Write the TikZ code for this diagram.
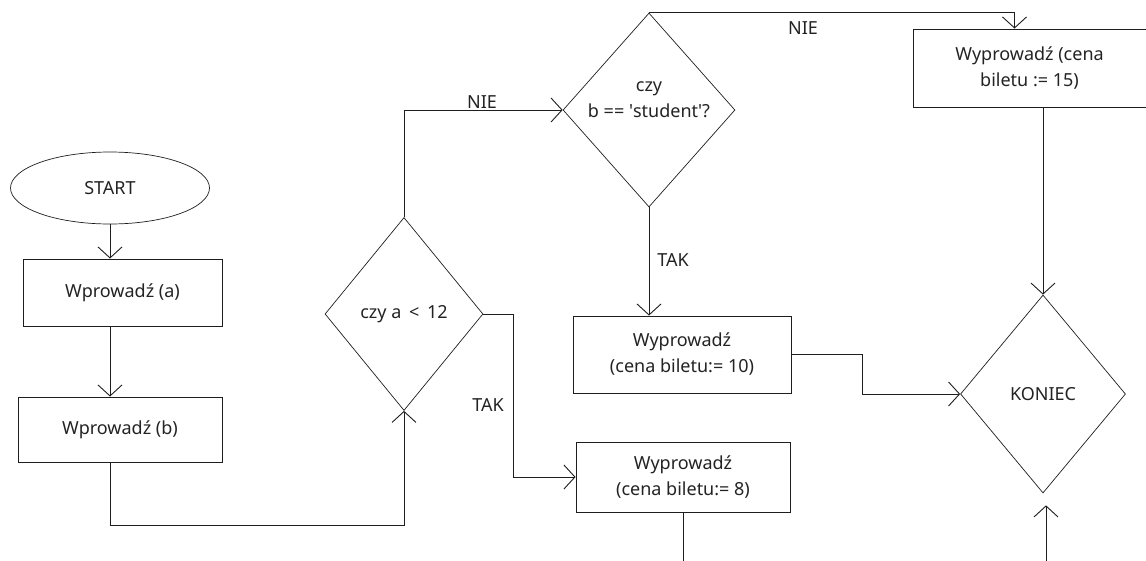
\documentclass[tikz,border=0pt]{standalone}
\usepackage{fontspec}
\setmainfont{Noto Sans}
\usetikzlibrary{shapes.geometric,arrows.meta}
\definecolor{flowline}{RGB}{30,30,30}
\definecolor{flowtext}{RGB}{35,35,35}

\begin{document}
\begin{tikzpicture}[x=1pt, y=-1pt,
    every node/.style={font=\fontsize{18}{26}\selectfont, text=flowtext, align=center, inner sep=0pt},
    box/.style={draw=flowline, line width=0.9pt, rectangle},
    decision/.style={draw=flowline, line width=0.7pt, diamond},
    terminal/.style={draw=flowline, line width=0.7pt, ellipse},
    flow/.style={draw=flowline, line width=0.9pt},
    >={Straight Barb[length=11pt,width=24pt]}]
    \useasboundingbox (0,0) rectangle (1146,560);

    % Start and input
    \node[terminal, minimum width=199pt, minimum height=72pt] (start) at (110,188) {START};
    \node[box, minimum width=199pt, minimum height=67pt] (ba) at (122.5,292.5) {Wprowadź (a)};
    \node[box, minimum width=204pt, minimum height=65pt] (bb) at (120,429.5) {Wprowadź (b)};

    % Decisions
    \node[decision, minimum width=158pt, minimum height=193pt] (d1) at (404,314) {czy a \,<\, 12};
    \node[decision, minimum width=172pt, minimum height=194pt,
        label={[yshift=10pt]center:{czy\\b == \textquotesingle student\textquotesingle?}}] (d2) at (649,110) {};

    % Outputs
    \node[box, minimum width=233pt, minimum height=78pt] (b15) at (1029.5,68) {Wyprowadź (cena\\biletu := 15)};
    \node[box, minimum width=218pt, minimum height=77pt] (b10) at (682,354.5) {Wyprowadź\\(cena biletu:= 10)};
    \node[box, minimum width=214pt, minimum height=70pt] (b8) at (683,477) {Wyprowadź\\(cena biletu:= 8)};

    % End
    \node[decision, minimum width=165pt, minimum height=198pt] (koniec) at (1043,394) {KONIEC};

    % Branch labels
    \node (nie1) at (482,102) {NIE};
    \node (tak1) at (488,405) {TAK};
    \node (tak2) at (673,260) {TAK};
    \node (nie2) at (803,28) {NIE};

    % Connectors
    \draw[flow,->] (start.south) -- (start.south |- ba.north);
    \draw[flow,->] (start.south |- ba.south) -- (start.south |- bb.north);
    \draw[flow,->] (start.south |- bb.south) -- ++(0,63) -| (d1.south);
    \draw[flow,->] (d1.north) |- (d2.west);
    \draw[flow,->] (d1.east) -- ++(30,0) |- (b8.west);
    \draw[flow,->] (d2.south) -- (d2.south |- b10.north);
    \draw[flow,->] (d2.north) -| ([xshift=-15pt]b15.north);
    \draw[flow,->] (koniec.north |- b15.south) -- (koniec.north);
    \draw[flow,->] (b10.east) -- ++(71,0) |- (koniec.west);
    \draw[flow] (b8.south) -- ++(0,60);
    \coordinate (below) at (1046,575);
    \draw[flow,->,shorten >=12pt] (below) -- (below |- koniec.south);
\end{tikzpicture}
\end{document}
